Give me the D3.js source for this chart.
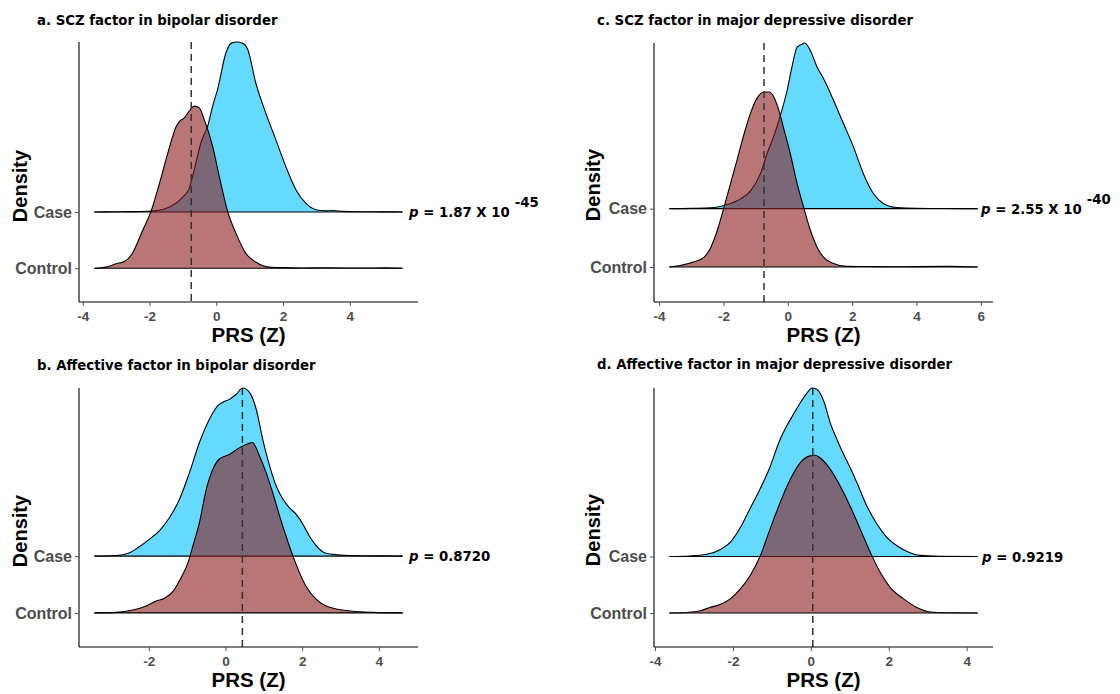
<!DOCTYPE html>
<html>
<head>
<meta charset="utf-8">
<script src="https://cdn.jsdelivr.net/npm/d3@7"></script>
<style>
  body { margin: 0; background: #fff; }
  svg { display: block; }
</style>
</head>
<body>
<svg id="chart" width="1120" height="694"></svg>
<script>
// ---------------- data ----------------
const groups = ["Control", "Case"];           // ridge order, bottom to top
const panelTitles = [
  "a. SCZ factor in bipolar disorder",
  "b. Affective factor in bipolar disorder",
  "c. SCZ factor in major depressive disorder",
  "d. Affective factor in major depressive disorder"
];
const pValueText = ["1.87 X 10", "0.8720", "2.55 X 10", "0.9219"];
const pValueExponent = ["-45", "", "-40", ""];
const refLine = [-0.75, 0.44, -0.74, 0.05];   // dashed reference PRS
const xTickValues = [
  [-4, -2, 0, 2, 4],
  [-2, 0, 2, 4],
  [-4, -2, 0, 2, 4, 6],
  [-4, -2, 0, 2, 4]
];

// Ridge heights (in ridge-spacing units) at PRS (Z) positions.
// a. SCZ factor, bipolar disorder
const sczBipCaseX = [-3.65, -3.0, -2.5, -2.1, -1.85, -1.4, -1.01, -0.81, -0.71, -0.61, -0.46, -0.26, -0.11, 0.04, 0.29, 0.45, 0.62, 0.78, 0.94, 1.18, 1.48, 1.78, 2.08, 2.38, 2.68, 2.98, 3.3, 3.5, 3.8, 4.2, 5.0, 5.58];
const sczBipCaseH = [0, 0.003, 0.006, 0.012, 0.02, 0.09, 0.26, 0.42, 0.63, 0.87, 1.23, 1.52, 1.88, 2.18, 2.83, 3.0, 3.02, 3.0, 2.89, 2.30, 1.76, 1.29, 0.81, 0.40, 0.155, 0.04, 0.02, 0.025, 0.01, 0.004, 0.002, 0];
const sczBipCtrlX = [-3.65, -3.3, -3.0, -2.75, -2.55, -2.2, -1.95, -1.70, -1.45, -1.2, -1.1, -0.96, -0.81, -0.66, -0.51, -0.36, -0.11, 0.09, 0.34, 0.59, 0.89, 1.18, 1.58, 2.0, 2.6, 3.2, 3.8, 4.4, 5.0, 5.58];
const sczBipCtrlH = [0, 0.02, 0.08, 0.12, 0.23, 0.68, 1.02, 1.51, 2.05, 2.52, 2.61, 2.67, 2.79, 2.88, 2.85, 2.64, 2.17, 1.63, 1.01, 0.62, 0.26, 0.11, 0.02, 0.01, 0.005, 0.008, 0.005, 0.004, 0.006, 0];

// b. Affective factor, bipolar disorder
const affBipCaseX = [-3.42, -2.85, -2.5, -2.24, -1.98, -1.72, -1.46, -1.2, -0.94, -0.68, -0.42, -0.2, -0.07, 0.1, 0.28, 0.45, 0.63, 0.8, 0.97, 1.15, 1.32, 1.5, 1.67, 1.84, 2.02, 2.19, 2.37, 2.58, 2.8, 3.23, 3.9, 4.62];
const affBipCaseH = [0, 0.01, 0.06, 0.17, 0.3, 0.45, 0.68, 1.0, 1.47, 2.0, 2.41, 2.65, 2.71, 2.76, 2.85, 2.96, 2.88, 2.59, 2.06, 1.59, 1.24, 1.0, 0.85, 0.74, 0.56, 0.35, 0.18, 0.06, 0.03, 0.01, 0.005, 0];
const affBipCtrlX = [-3.42, -2.85, -2.42, -2.07, -1.81, -1.59, -1.37, -1.16, -0.98, -0.85, -0.68, -0.5, -0.33, -0.16, 0.1, 0.37, 0.58, 0.7, 0.89, 1.06, 1.23, 1.41, 1.58, 1.76, 1.93, 2.1, 2.37, 2.63, 2.89, 3.32, 3.84, 4.62];
const affBipCtrlH = [0, 0.01, 0.05, 0.12, 0.21, 0.26, 0.38, 0.62, 0.88, 1.18, 1.59, 2.18, 2.53, 2.71, 2.79, 2.91, 2.98, 3.0, 2.76, 2.47, 2.12, 1.71, 1.35, 1.0, 0.71, 0.47, 0.24, 0.12, 0.07, 0.03, 0.01, 0];

// c. SCZ factor, major depressive disorder
const sczMddCaseX = [-3.68, -3.0, -2.29, -1.88, -1.46, -1.15, -0.85, -0.64, -0.43, -0.23, -0.02, 0.13, 0.29, 0.44, 0.53, 0.7, 0.91, 1.11, 1.42, 1.73, 2.04, 2.35, 2.66, 2.97, 3.38, 4.0, 4.8, 5.9];
const sczMddCaseH = [0, 0.005, 0.02, 0.07, 0.17, 0.31, 0.6, 0.95, 1.25, 1.6, 2.03, 2.43, 2.77, 2.82, 2.84, 2.71, 2.43, 2.23, 1.86, 1.46, 1.06, 0.6, 0.26, 0.09, 0.02, 0.005, 0.003, 0];
const sczMddCtrlX = [-3.68, -3.32, -2.91, -2.6, -2.39, -2.19, -1.98, -1.77, -1.57, -1.36, -1.15, -0.95, -0.74, -0.59, -0.43, -0.28, -0.12, 0.08, 0.29, 0.49, 0.7, 0.91, 1.11, 1.42, 1.84, 2.5, 3.2, 4.0, 5.0, 5.9];
const sczMddCtrlH = [0, 0.03, 0.09, 0.17, 0.34, 0.63, 1.03, 1.45, 1.85, 2.28, 2.65, 2.9, 3.0, 3.0, 2.91, 2.69, 2.36, 1.94, 1.43, 1.03, 0.63, 0.34, 0.17, 0.06, 0.01, 0.008, 0.005, 0.006, 0.01, 0];

// d. Affective factor, major depressive disorder
const affMddCaseX = [-3.63, -3.1, -2.67, -2.33, -2.07, -1.82, -1.56, -1.3, -1.05, -0.79, -0.62, -0.45, -0.27, -0.1, 0.03, 0.15, 0.33, 0.5, 0.67, 0.84, 1.01, 1.18, 1.44, 1.7, 1.95, 2.21, 2.47, 2.81, 3.3, 4.28];
const affMddCaseH = [0, 0.01, 0.04, 0.12, 0.25, 0.5, 0.85, 1.2, 1.58, 2.07, 2.31, 2.51, 2.72, 2.89, 2.98, 2.96, 2.75, 2.36, 2.07, 1.81, 1.57, 1.31, 0.89, 0.57, 0.34, 0.19, 0.09, 0.02, 0.005, 0];
const affMddCtrlX = [-3.63, -3.19, -2.84, -2.59, -2.33, -2.07, -1.82, -1.56, -1.3, -1.05, -0.79, -0.53, -0.27, -0.02, 0.11, 0.28, 0.5, 0.75, 1.01, 1.27, 1.53, 1.78, 2.04, 2.38, 2.72, 3.07, 3.5, 4.28];
const affMddCtrlH = [0, 0.01, 0.04, 0.1, 0.15, 0.25, 0.42, 0.66, 1.01, 1.48, 1.95, 2.36, 2.66, 2.78, 2.79, 2.72, 2.54, 2.25, 1.89, 1.48, 1.07, 0.72, 0.45, 0.25, 0.1, 0.02, 0.005, 0];

// ---------------- layout ----------------
const zip = (xs, hs) => xs.map((x, i) => [x, hs[i]]);
const ridgeData = [
  { Control: zip(sczBipCtrlX, sczBipCtrlH), Case: zip(sczBipCaseX, sczBipCaseH) },
  { Control: zip(affBipCtrlX, affBipCtrlH), Case: zip(affBipCaseX, affBipCaseH) },
  { Control: zip(sczMddCtrlX, sczMddCtrlH), Case: zip(sczMddCaseX, sczMddCaseH) },
  { Control: zip(affMddCtrlX, affMddCtrlH), Case: zip(affMddCaseX, affMddCaseH) }
];

const frames = [
  { x0: 79,  x1: 418, y0: 42,  y1: 302, titleX: 37,  titleY: 25,  densX: 26.5, densY: 186, pX: 409 },
  { x0: 79,  x1: 418, y0: 388, y1: 647, titleX: 37,  titleY: 370, densX: 26.5, densY: 531, pX: 409 },
  { x0: 654, x1: 993, y0: 43,  y1: 302, titleX: 597, titleY: 25,  densX: 600,  densY: 185, pX: 981 },
  { x0: 654, x1: 993, y0: 388, y1: 647, titleX: 597, titleY: 369, densX: 600,  densY: 530, pX: 982 }
];

const fills = { Case: "#00bfff", Control: "#8b1a1a" };
const fillOpacity = 0.6;
const tickGrey = "#4d4d4d";

const svg = d3.select("#chart");

frames.forEach((f, i) => {
  const data = ridgeData[i];
  const g = svg.append("g");

  // x domain: data range with 5% padding on each side
  const all = groups.flatMap(k => data[k].map(d => d[0]));
  const lo = d3.min(all), hi = d3.max(all), pad = (hi - lo) * 0.05;
  const x = d3.scaleLinear().domain([lo - pad, hi + pad]).range([f.x0, f.x1]);

  // y: ridge baselines at 1 (Control) and 2 (Case); top reaches highest ridge
  const base = { Control: 1, Case: 2 };
  const yTop = d3.max(groups, k => base[k] + d3.max(data[k], d => d[1]));
  const y = d3.scaleLinear().domain([0.4, yTop]).range([f.y1, f.y0]);

  // ridges, upper group first so the lower one overlaps it
  ["Case", "Control"].forEach(k => {
    const b = base[k];
    const pts = data[k];
    const area = d3.area()
      .x(d => x(d[0])).y0(y(b)).y1(d => y(b + d[1]))
      .curve(d3.curveMonotoneX);
    const line = d3.line()
      .x(d => x(d[0])).y(d => y(b + d[1]))
      .curve(d3.curveMonotoneX);
    g.append("path").attr("d", area(pts))
      .attr("fill", fills[k]).attr("fill-opacity", fillOpacity).attr("stroke", "none");
    g.append("line")
      .attr("x1", x(pts[0][0])).attr("x2", x(pts[pts.length - 1][0]))
      .attr("y1", y(b)).attr("y2", y(b))
      .attr("stroke", "#000").attr("stroke-width", 1.1);
    g.append("path").attr("d", line(pts))
      .attr("fill", "none").attr("stroke", "#000").attr("stroke-width", 1.1);
  });

  // dashed reference line
  g.append("line")
    .attr("x1", x(refLine[i])).attr("x2", x(refLine[i]))
    .attr("y1", f.y0).attr("y2", f.y1)
    .attr("stroke", "#333").attr("stroke-width", 1.5)
    .attr("stroke-dasharray", "7,5");

  // x axis
  const xAxis = g.append("g").attr("transform", `translate(0,${f.y1})`)
    .call(d3.axisBottom(x).tickValues(xTickValues[i]).tickSize(4).tickSizeOuter(0).tickPadding(5.5)
      .tickFormat(d3.format("d")));
  xAxis.select(".domain").attr("stroke", "#000").attr("stroke-width", 1.1)
    .attr("d", `M${f.x0},0H${f.x1}`);
  xAxis.selectAll(".tick line").attr("stroke", tickGrey);
  xAxis.selectAll(".tick text")
    .attr("fill", tickGrey)
    .style("font-family", "'Liberation Sans', Arial, sans-serif")
    .style("font-weight", "bold").style("font-size", "13.5px")
    .text(d => String(d).replace("\u2212", "-"));

  // y axis (categorical ridge labels)
  const yAxis = g.append("g").attr("transform", `translate(${f.x0},0)`)
    .call(d3.axisLeft(y).tickValues(groups.map(k => base[k])).tickSize(4).tickSizeOuter(0).tickPadding(3)
      .tickFormat(v => groups.find(k => base[k] === v)));
  yAxis.select(".domain").attr("stroke", "#000").attr("stroke-width", 1.1)
    .attr("d", `M0,${f.y0}V${f.y1}`);
  yAxis.selectAll(".tick line").attr("stroke", tickGrey);
  yAxis.selectAll(".tick text")
    .attr("fill", tickGrey)
    .style("font-family", "'Liberation Sans', Arial, sans-serif")
    .style("font-weight", "bold").style("font-size", "16px");

  // axis titles
  g.append("text")
    .attr("x", (f.x0 + f.x1) / 2).attr("y", f.y1 + 40)
    .attr("text-anchor", "middle")
    .style("font-family", "'Liberation Sans', Arial, sans-serif")
    .style("font-weight", "bold").style("font-size", "20.5px")
    .text("PRS (Z)");
  g.append("text")
    .attr("transform", `translate(${f.densX},${f.densY}) rotate(-90)`)
    .attr("text-anchor", "middle")
    .style("font-family", "'Liberation Sans', Arial, sans-serif")
    .style("font-weight", "bold").style("font-size", "20px")
    .text("Density");

  // panel title
  g.append("text")
    .attr("x", f.titleX).attr("y", f.titleY)
    .style("font-family", "'DejaVu Sans', Verdana, sans-serif")
    .style("font-weight", "bold").style("font-size", "13.3px")
    .text(panelTitles[i]);

  // p value beside the Case ridge
  const pt = g.append("text")
    .attr("x", f.pX).attr("y", y(base.Case) + 5)
    .style("font-family", "'DejaVu Sans', Verdana, sans-serif")
    .style("font-weight", "bold").style("font-size", "13.3px");
  pt.append("tspan").style("font-style", "italic").text("p");
  pt.append("tspan").text(" = " + pValueText[i]);
  if (pValueExponent[i]) {
    pt.append("tspan").attr("dx", 5).attr("dy", -10).text(pValueExponent[i]);
  }
});
</script>
</body>
</html>
